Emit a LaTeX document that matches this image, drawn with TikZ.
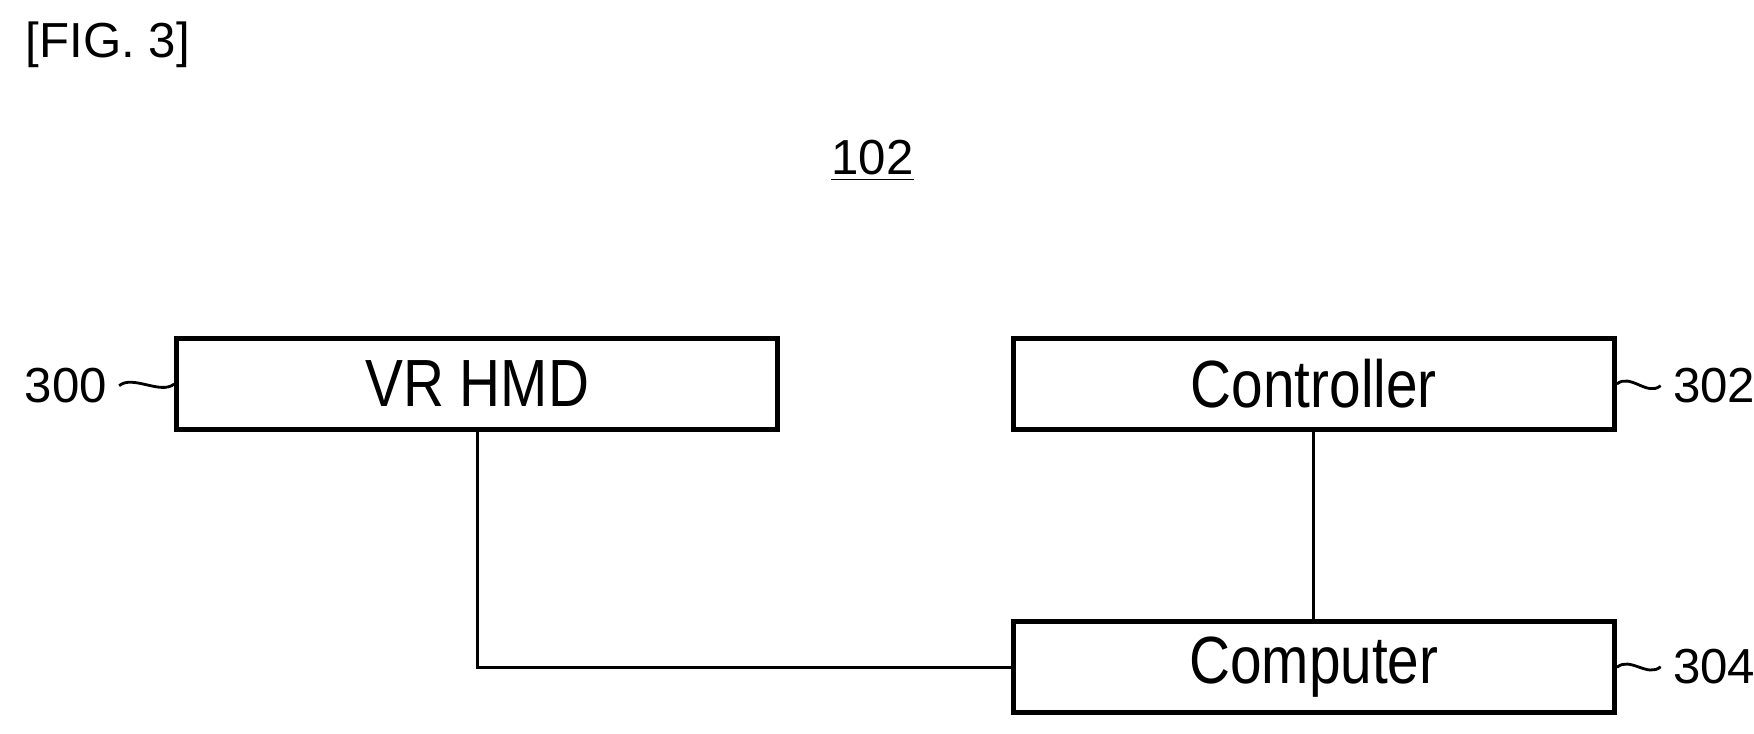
\documentclass[tikz,border=0pt]{standalone}
\usepackage{fontspec}
\setmainfont{Liberation Sans}
\newfontfamily\boxfont[FakeStretch=0.85]{Liberation Sans}
\begin{document}
\begin{tikzpicture}[x=0.01124cm,y=-0.01124cm,
    block/.style={draw,line width=1.5pt,minimum width=6.01cm,minimum height=0.91cm,font=\boxfont\fontsize{19}{22}\selectfont},
    ref/.style={font=\fontsize{14}{16}\selectfont},
    wire/.style={line width=0.8pt}]
    \useasboundingbox (0,0) rectangle (1560,652);
    \node[anchor=west,font=\fontsize{14}{16}\selectfont] (fig) at (12,40) {[FIG. 3]};
    \node[font=\fontsize{14}{16}\selectfont] (title) at (776,143) {\underline{102}};
    \node[block] (hmd) at (424.5,341.5) {VR HMD};
    \node[block] (ctrl) at (1168.5,341.5) {Controller};
    \node[block] (comp) at (1168.5,593.5) {Computer};
    \node[ref,anchor=east] (l300) at (106,343) {300};
    \node[ref,anchor=west] (l302) at (1477,343) {302};
    \node[ref,anchor=west] (l304) at (1477,593) {304};
    % leaders
    \draw[wire] (l300.east) .. controls +(12,-10) and +(-12,10) .. (hmd.west);
    \draw[wire] (ctrl.east) .. controls +(12,-10) and +(-12,10) .. (l302.west);
    \draw[wire] (comp.east) .. controls +(12,-10) and +(-12,10) .. (l304.west);
    % connectors
    \draw[wire] (hmd.south) |- (comp.west);
    \draw[wire] (ctrl.south) -- (comp.north);
\end{tikzpicture}
\end{document}
